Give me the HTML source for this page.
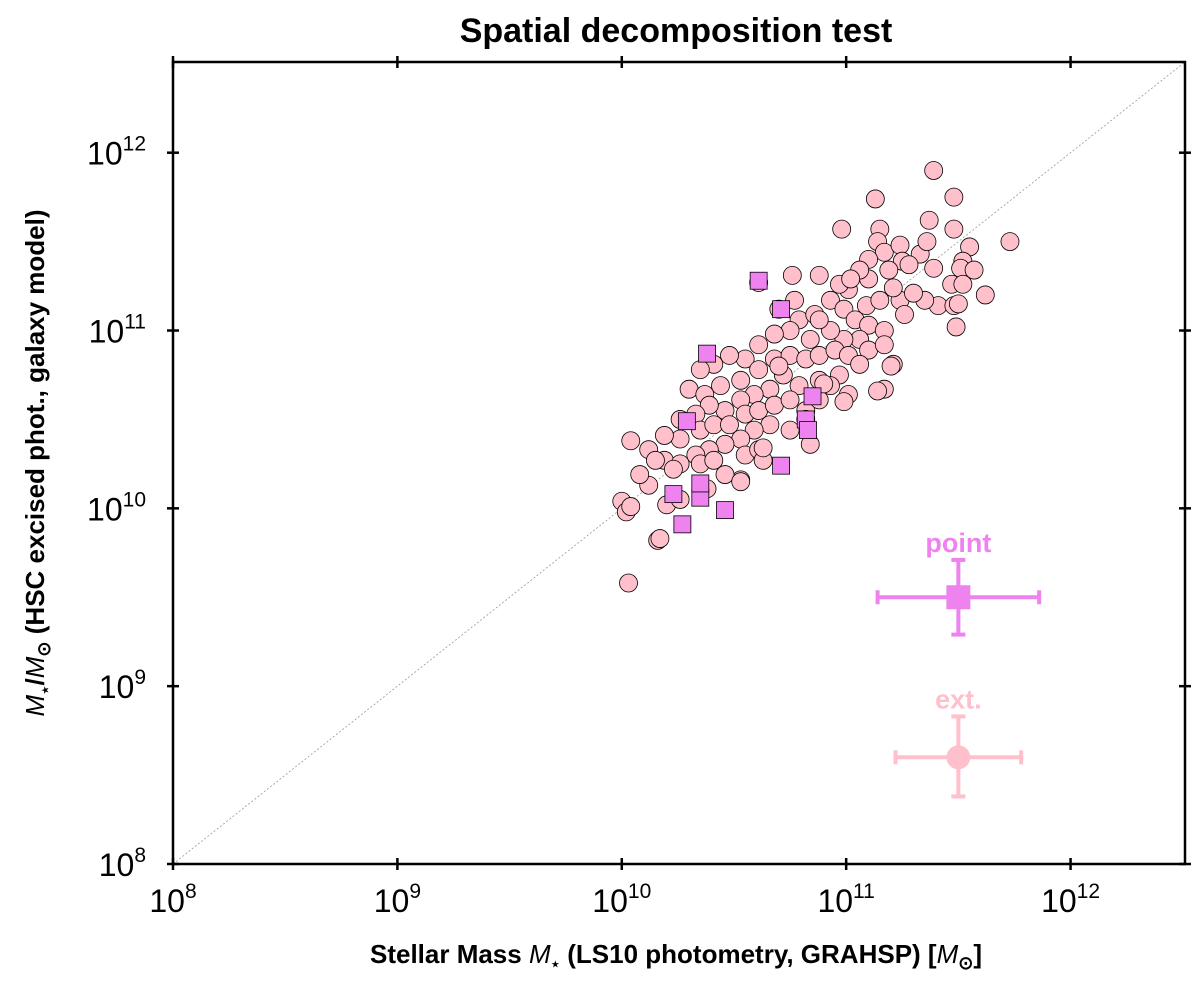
<!DOCTYPE html>
<html><head><meta charset="utf-8"><style>
body{margin:0;background:#fff;}
svg text{font-family:"Liberation Sans",sans-serif;}
</style></head><body>
<svg id="chart" width="1200" height="982" xmlns="http://www.w3.org/2000/svg">
<text x="676" y="42" font-size="34" font-weight="bold" text-anchor="middle">Spatial decomposition test</text>
<g id="plot"></g>
<rect x="173" y="62" width="1012" height="802" fill="none" stroke="#000" stroke-width="2.5"/>
<text x="676" y="963" font-size="26" font-weight="bold" text-anchor="middle">Stellar Mass <tspan font-style="italic" font-weight="normal">M</tspan><tspan font-size="15" dy="6">⋆</tspan><tspan dy="-6"> (LS10 photometry, GRAHSP) [</tspan><tspan font-style="italic" font-weight="normal">M</tspan><tspan font-size="18" dy="6">⊙</tspan><tspan dy="-6">]</tspan></text>
<text transform="translate(44,463) rotate(-90)" font-size="26" font-weight="bold" text-anchor="middle"><tspan font-style="italic" font-weight="normal">M</tspan><tspan font-size="15" dy="6">⋆</tspan><tspan dy="-6">/</tspan><tspan font-style="italic" font-weight="normal">M</tspan><tspan font-size="18" dy="6">⊙</tspan><tspan dy="-6"> (HSC excised phot., galaxy model)</tspan></text>
</svg>
<script>
const xTicks=[8,9,10,11,12];
const yTicks=[8,9,10,11,12];
const extLogX=[11.39,11.13,11.48,10.98,11.48,11.73,11.55,11.52,11.15,11.14,11.17,11.10,11.24,11.25,11.33,11.39,11.36,11.41,11.48,11.51,11.49,11.28,11.19,11.10,11.01,11.09,11.15,11.24,11.26,11.35,11.06,10.88,10.97,10.77,10.70,10.79,10.86,10.93,10.99,11.04,11.10,11.17,11.06,10.99,10.93,10.84,10.75,10.68,10.61,10.55,10.48,10.41,10.35,10.30,10.37,10.44,10.53,10.61,10.68,10.75,10.82,10.88,10.95,11.01,11.10,11.17,11.21,11.17,11.06,10.97,10.88,10.79,10.72,10.66,10.59,10.53,10.46,10.39,10.33,10.26,10.35,10.41,10.48,10.55,10.61,10.68,10.75,10.82,10.88,10.93,11.01,10.66,10.59,10.53,10.46,10.39,10.33,10.26,10.19,10.12,10.19,10.26,10.35,10.41,10.55,10.61,10.75,10.82,10.53,10.84,10.99,11.14,10.46,10.38,10.23,10.12,10.20,10.26,10.15,10.08,10.16,10.53,10.63,10.70,10.76,10.88,11.47,11.52,11.50,11.62,11.37,11.57,11.30,11.21,10.61,10.03,10.00,10.02,10.04,10.17,10.04,11.02,11.20,10.63,10.90];
const extLogY=[11.90,11.74,11.75,11.57,11.57,11.50,11.47,11.39,11.57,11.50,11.44,11.40,11.48,11.39,11.43,11.35,11.50,11.14,11.14,11.35,11.02,11.37,11.34,11.29,11.23,11.14,11.17,11.17,11.09,11.17,11.34,11.31,11.26,11.17,11.12,11.06,11.09,11.17,11.12,11.06,11.03,11.00,10.95,10.95,11.00,10.95,11.00,10.98,10.92,10.84,10.86,10.81,10.78,10.67,10.64,10.69,10.72,10.78,10.84,10.86,10.84,10.86,10.89,10.86,10.89,10.92,10.81,10.67,10.81,10.75,10.72,10.69,10.75,10.67,10.64,10.61,10.55,10.58,10.53,10.50,10.44,10.47,10.47,10.53,10.55,10.58,10.61,10.55,10.61,10.69,10.64,10.47,10.44,10.39,10.36,10.33,10.30,10.39,10.41,10.33,10.27,10.25,10.25,10.27,10.30,10.33,10.44,10.50,10.16,10.36,10.60,10.66,10.19,10.11,10.22,10.13,10.02,10.05,10.27,10.19,9.82,10.15,10.27,10.80,11.31,11.06,11.26,11.26,11.15,11.20,11.62,11.34,11.21,11.24,11.27,9.58,10.04,9.98,10.01,9.83,10.38,11.29,10.80,10.34,10.70];
const ptLogX=[10.61,10.71,10.38,10.29,10.85,10.82,10.83,10.71,10.23,10.35,10.35,10.27,10.46];
const ptLogY=[11.28,11.12,10.87,10.49,10.63,10.50,10.44,10.24,10.08,10.06,10.14,9.91,9.99];
const errPoint={x:11.5,y:9.5,xlo:11.14,xhi:11.86,ylo:9.29,yhi:9.71};
const errExt={x:11.5,y:8.6,xlo:11.22,xhi:11.78,ylo:8.38,yhi:8.83};

const X0=173,X1=1185,Y0=864,Y1=62,LMIN=8,LMAX=12.51;
const sx=l=>X0+(l-LMIN)/(LMAX-LMIN)*(X1-X0);
const sy=l=>Y0-(l-LMIN)/(LMAX-LMIN)*(Y0-Y1);
const NS="http://www.w3.org/2000/svg";
const g=document.getElementById('plot');
function mk(t,a,parent){const e=document.createElementNS(NS,t);for(const k in a)e.setAttribute(k,a[k]);(parent||g).appendChild(e);return e;}

let d=mk('line',{x1:sx(8),y1:sy(8),x2:sx(12.51),y2:sy(12.51),stroke:'#999','stroke-width':0.8,'stroke-dasharray':'2,2'});



xTicks.forEach(v=>{const x=sx(v);
 let t1=mk('line',{x1:x,y1:Y0+6,x2:x,y2:Y0-6,stroke:'#000','stroke-width':2.5});
 let t2=mk('line',{x1:x,y1:Y1-6,x2:x,y2:Y1+6,stroke:'#000','stroke-width':2.5});
 const t=mk('text',{x:x,y:912,'font-size':32,'text-anchor':'middle'});
 t.innerHTML='10<tspan font-size="21" dy="-14">'+v+'</tspan>';});
yTicks.forEach(v=>{const y=sy(v);
 let t3=mk('line',{x1:X0-6,y1:y,x2:X0+6,y2:y,stroke:'#000','stroke-width':2.5});
 let t4=mk('line',{x1:X1+6,y1:y,x2:X1-6,y2:y,stroke:'#000','stroke-width':2.5});
 const t=mk('text',{x:146,y:y+12,'font-size':32,'text-anchor':'end'});
 t.innerHTML='10<tspan font-size="21" dy="-14">'+v+'</tspan>';});

extLogX.forEach((v,i)=>{const c=mk('circle',{cx:sx(v),cy:sy(extLogY[i]),r:9,fill:'#ffc0cb',stroke:'#000','stroke-width':0.8});
 });
ptLogX.forEach((v,i)=>{const s=mk('rect',{x:sx(v)-8.5,y:sy(ptLogY[i])-8.5,width:17,height:17,fill:'#ee82ee',stroke:'#000','stroke-width':0.8});
 });

function errbar(e,col,name,shape,label){
 const grp=mk('g',{});
 const cx=sx(e.x),cy=sy(e.y),a={stroke:col,'stroke-width':4};
 mk('line',Object.assign({x1:sx(e.xlo),y1:cy,x2:sx(e.xhi),y2:cy},a),grp);
 mk('line',Object.assign({x1:cx,y1:sy(e.ylo),x2:cx,y2:sy(e.yhi)},a),grp);
 [[sx(e.xlo),cy,0],[sx(e.xhi),cy,0],[cx,sy(e.ylo),1],[cx,sy(e.yhi),1]].forEach(p=>{
  if(p[2])mk('line',Object.assign({x1:p[0]-7,y1:p[1],x2:p[0]+7,y2:p[1]},a),grp);
  else mk('line',Object.assign({x1:p[0],y1:p[1]-7,x2:p[0],y2:p[1]+7},a),grp);});
 if(shape==='sq')mk('rect',{x:cx-12,y:cy-12,width:24,height:24,fill:col},grp);
 else mk('circle',{cx:cx,cy:cy,r:12,fill:col},grp);
 const t=mk('text',{x:cx,y:sy(e.yhi)-8,'font-size':27,'font-weight':'bold','text-anchor':'middle',fill:col},grp);
 t.textContent=label;
}
errbar(errPoint,'#ee82ee','point-error-legend','sq','point');
errbar(errExt,'#ffc0cb','ext-error-legend','ci','ext.');
</script>
</body></html>
